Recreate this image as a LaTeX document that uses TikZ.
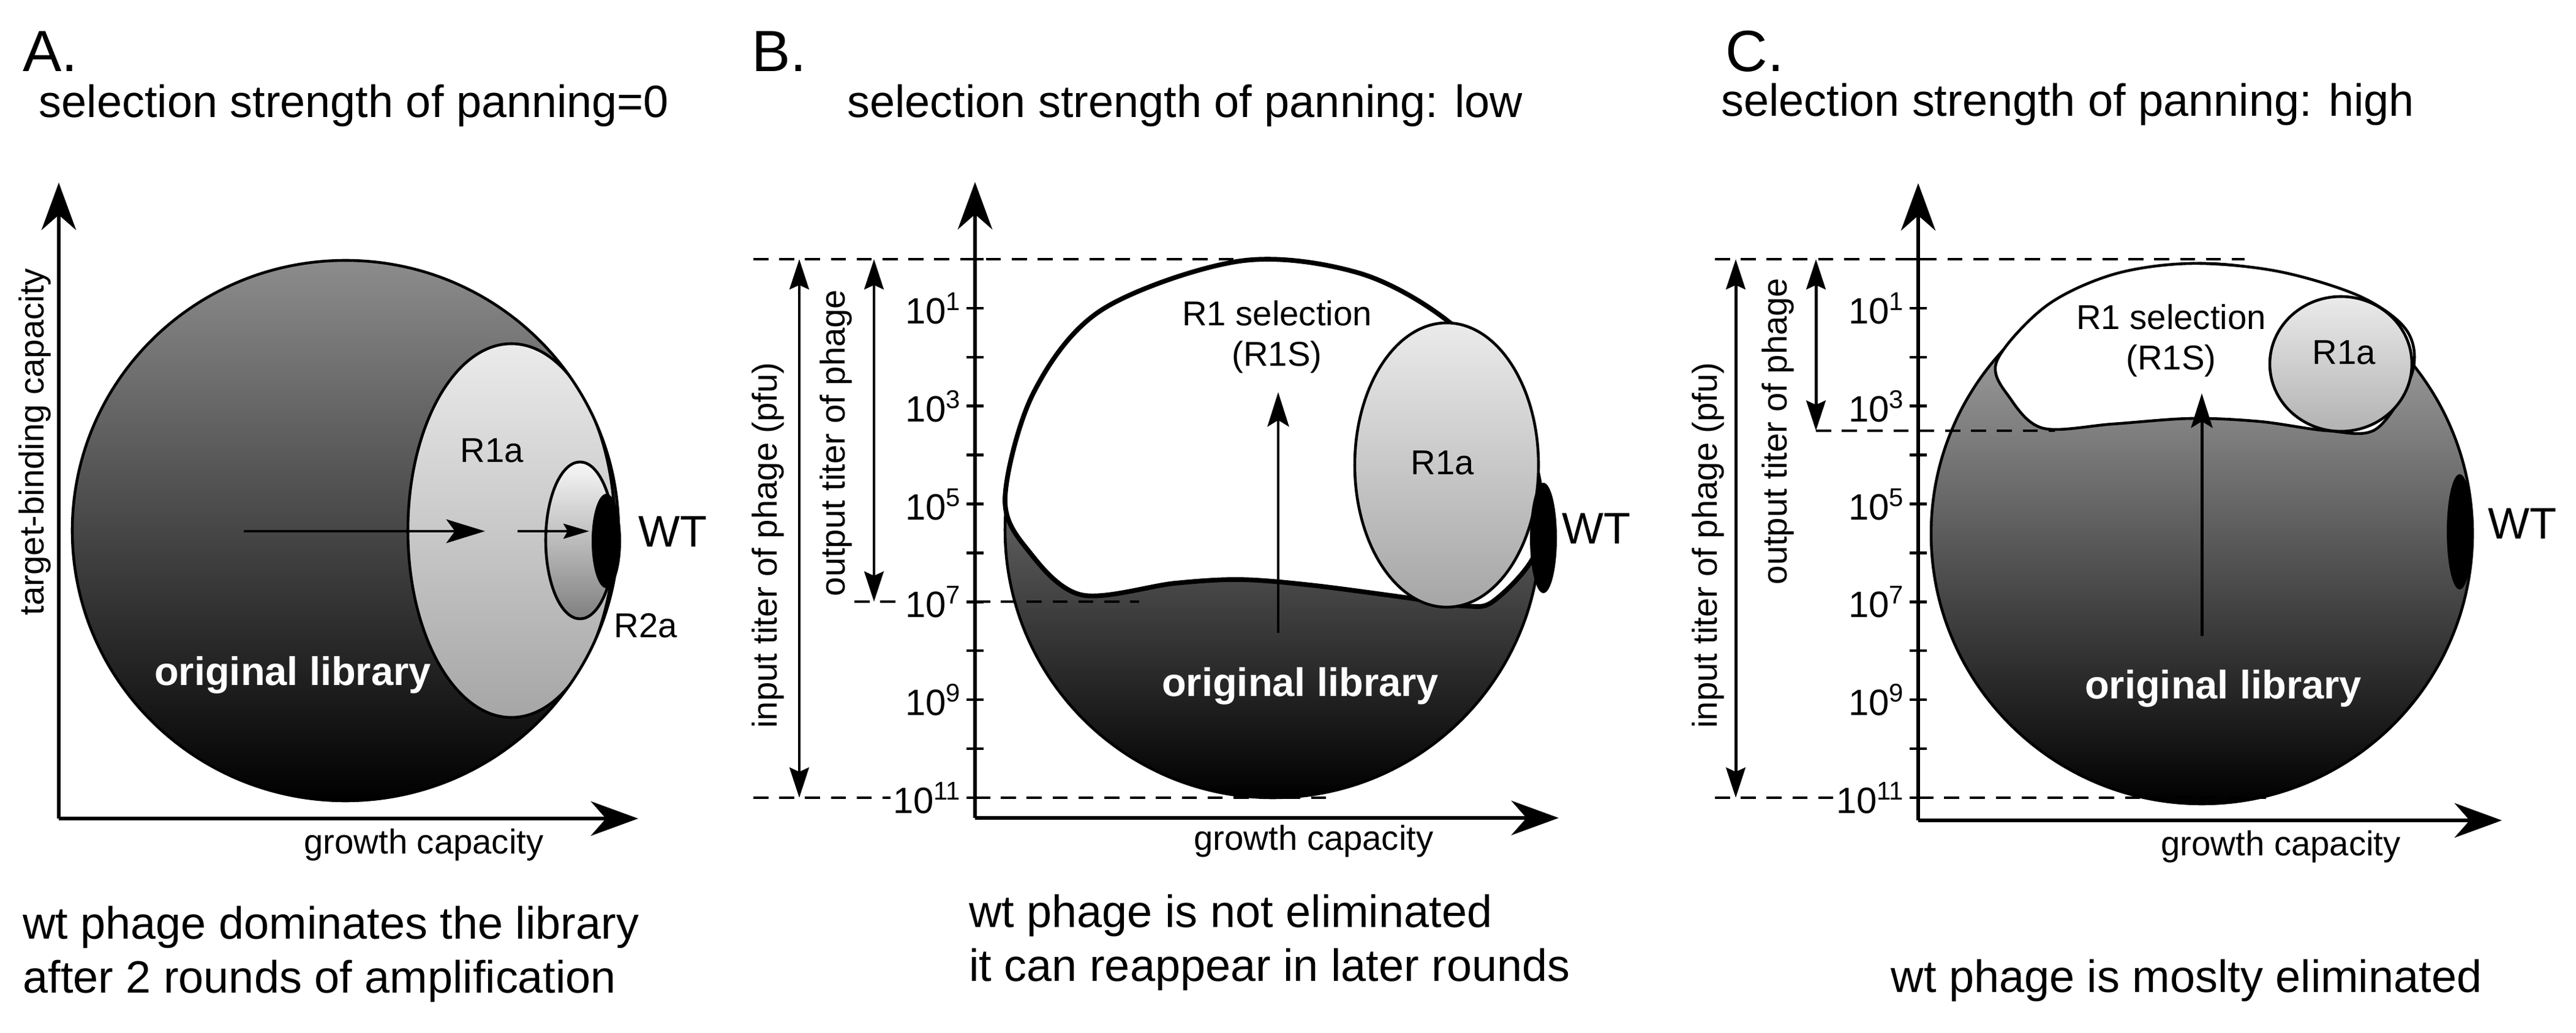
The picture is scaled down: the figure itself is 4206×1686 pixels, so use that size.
\documentclass[tikz,border=0pt]{standalone}
\usepackage{fontspec}
\setmainfont{Liberation Sans}
\usetikzlibrary{arrows.meta}
\begin{document}
\begin{tikzpicture}[x=0.01cm,y=-0.01cm,
  ax/.style={line width=1.8pt,-{Stealth[length=22pt,width=16pt,inset=7pt]}},
  dbl/.style={line width=1.4pt,{Stealth[length=14pt,width=9pt,inset=2pt]}-{Stealth[length=14pt,width=9pt,inset=2pt]}},
  up/.style={line width=1.4pt,-{Stealth[length=16pt,width=10pt,inset=3pt]}},
  dsh/.style={line width=1.1pt,dash pattern=on 7pt off 5pt},
  ttl/.style={font=\fontsize{21pt}{25pt}\selectfont},
  pan/.style={font=\fontsize{27pt}{30pt}\selectfont,anchor=west},
  axl/.style={font=\fontsize{16pt}{19pt}\selectfont},
  lib/.style={font=\fontsize{18.5pt}{21pt}\selectfont\bfseries,text=white},
  reg/.style={font=\fontsize{16pt}{19pt}\selectfont},
  wt/.style={font=\fontsize{20.5pt}{24pt}\selectfont},
  tk/.style={font=\fontsize{17pt}{20pt}\selectfont,anchor=east,inner sep=1pt},
  btm/.style={font=\fontsize{21pt}{25pt}\selectfont,anchor=west,align=left},
  outl/.style={line width=1.3pt},
  thk/.style={line width=2.2pt}]
\useasboundingbox (0,0) rectangle (4206,1686);

%================ A =================
\node[pan] (Alab) at (25,84) {A.};
\node[ttl] (Attl) at (578,172) {selection strength of panning=0};
\shade[top color=black!45,middle color=black!20,bottom color=black] (564,866) ellipse [x radius=446,y radius=441];
\begin{scope}
\clip (564,866) ellipse [x radius=446,y radius=441];
\shade[top color=black!8,middle color=black!12,bottom color=black!35,draw=black,outl] (835,866) ellipse [x radius=169,y radius=305];
\shade[top color=black!3,bottom color=black!50,draw=black,outl] (947,882) ellipse [x radius=56,y radius=128];
\end{scope}
\draw[outl] (564,866) ellipse [x radius=446,y radius=441];
\fill (990,883) ellipse [x radius=24,y radius=77];
\coordinate (Ao) at (96,1336);
\coordinate (Ay) at (96,298);
\coordinate (Ax) at (1042,1336);
\draw[ax] (Ao) -- (Ay);
\draw[ax] (Ao) -- (Ax);
\node[axl,rotate=90] (Aylab) at (57,721) {target-binding capacity};
\node[axl] (Axlab) at (692,1379) {growth capacity};
\node[reg] (AR1a) at (803,735) {R1a};
\node[reg] (AR2a) at (1054,1021) {R2a};
\node[wt,anchor=west] (AWT) at (1030,868) {WT};
\node[lib] (Alib) at (478,1102) {original library};
\coordinate (Aa1) at (398,867); \coordinate (Aa2) at (792,867);
\coordinate (Aa3) at (845,867); \coordinate (Aa4) at (962,867);
\draw[line width=1.4pt,-{Stealth[length=18pt,width=11pt,inset=4pt]}] (Aa1) -- (Aa2);
\draw[line width=0.9pt,-{Stealth[length=12pt,width=7pt,inset=2pt]}] (Aa3) -- (Aa4);
\node[btm] (Abot) at (25,1557) {wt phage dominates the library\\after 2 rounds of amplification};

%================ B =================
\node[pan] (Blab) at (1215,84) {B.};
\node[ttl] (Bttl) at (1935,172) {selection strength of panning: low};
\shade[top color=black!30,middle color=black!62,bottom color=black] (2078,865) ellipse [x radius=437,y radius=437];
\draw[outl] (2078,865) ellipse [x radius=437,y radius=437];
\filldraw[fill=white,draw=black,thk] plot[smooth cycle,tension=0.55] coordinates {(1641,813) (1688,640) (1800,505) (2025,426) (2220,446) (2369,528) (2462,642) (2513,785) (2508,900) (2440,980) (2391,989) (2293,975) (2140,955) (2025,946) (1918,952) (1766,971) (1680,900)};
\shade[top color=black!8,middle color=black!10,bottom color=black!35,draw=black,outl] (2362,759) ellipse [x radius=150,y radius=232];
\fill (2520,878) ellipse [x radius=22,y radius=90];
\node[wt,anchor=west] (BWT) at (2538,863) {WT};
\node[reg,align=center] (BR1S) at (2085,550) {R1 selection\\(R1S)};
\node[reg] (BR1a) at (2355,755) {R1a};
\node[lib] (Blib) at (2123,1120) {original library};
\coordinate (Bs1) at (2087,1033); \coordinate (Bs2) at (2087,640);
\draw[up] (Bs1) -- (Bs2);
% axes
\coordinate (Bo) at (1592,1335);
\coordinate (By) at (1592,297);
\coordinate (Bx) at (2545,1335);
\foreach \n in {0,...,11} \draw[line width=1.3pt] (1578,423+79.9*\n) -- (1606,423+79.9*\n);
\draw[ax] (Bo) -- (By);
\draw[ax] (Bo) -- (Bx);
\node[tk] (B1) at (1574,503) {10\textsuperscript{1}};
\node[tk] (B3) at (1574,663) {10\textsuperscript{3}};
\node[tk] (B5) at (1574,823) {10\textsuperscript{5}};
\node[tk] (B7) at (1574,982) {10\textsuperscript{7}};
\node[tk] (B9) at (1574,1142) {10\textsuperscript{9}};
\node[tk] (B11) at (1574,1302) {10\textsuperscript{11}};
\draw[dsh] (1230,423) -- (2030,423);
\draw[dsh] (1395,982) -- (B7.west);
\draw[dsh] (1592,982) -- (1860,982);
\draw[dsh] (1230,1302) -- (B11.west);
\draw[dsh] (1592,1302) -- (2170,1302);
\coordinate (Bi1) at (1305,423); \coordinate (Bi2) at (1305,1302);
\coordinate (Bo1) at (1427,423); \coordinate (Bo2) at (1427,982);
\draw[dbl] (Bi1) -- (Bi2);
\draw[dbl] (Bo1) -- (Bo2);
\node[axl,rotate=90] (Bin) at (1254,890) {input titer of phage (pfu)};
\node[axl,rotate=90] (Bout) at (1365,723) {output titer of phage};
\node[axl] (Bxlab) at (2145,1373) {growth capacity};
\node[btm] (Bbot) at (1570,1538) {wt phage is not eliminated\\it can reappear in later rounds};

%================ C =================
\node[pan] (Clab) at (2805,84) {C.};
\node[ttl] (Cttl) at (3376,170) {selection strength of panning: high};
\shade[top color=black!28,middle color=black!55,bottom color=black] (3595,871) ellipse [x radius=442,y radius=441];
\draw[outl] (3595,871) ellipse [x radius=442,y radius=441];
\filldraw[fill=white,draw=black,outl] plot[smooth cycle,tension=0.55] coordinates {(3260,590) (3340,500) (3450,448) (3577,430) (3720,443) (3854,484) (3930,540) (3938,610) (3880,700) (3800,703) (3690,688) (3577,683) (3450,692) (3336,699) (3282,650)};
\shade[top color=black!8,bottom color=black!30,draw=black,outl] (3822,594) ellipse [x radius=116,y radius=110];
\fill (4016,868) ellipse [x radius=21,y radius=94];
\node[wt,anchor=west] (CWT) at (4050,855) {WT};
\node[reg,align=center] (CR1S) at (3545,556) {R1 selection\\(R1S)};
\node[reg] (CR1a) at (3827,575) {R1a};
\node[lib] (Clib) at (3630,1124) {original library};
\coordinate (Cs1) at (3595,1038); \coordinate (Cs2) at (3595,642);
\draw[up] (Cs1) -- (Cs2);
\coordinate (Co) at (3132,1339);
\coordinate (Cy) at (3132,299);
\coordinate (Cx) at (4085,1339);
\foreach \n in {0,...,11} \draw[line width=1.3pt] (3118,423+79.9*\n) -- (3146,423+79.9*\n);
\draw[ax] (Co) -- (Cy);
\draw[ax] (Co) -- (Cx);
\node[tk] (C1) at (3114,503) {10\textsuperscript{1}};
\node[tk] (C3) at (3114,663) {10\textsuperscript{3}};
\node[tk] (C5) at (3114,823) {10\textsuperscript{5}};
\node[tk] (C7) at (3114,982) {10\textsuperscript{7}};
\node[tk] (C9) at (3114,1142) {10\textsuperscript{9}};
\node[tk] (C11) at (3114,1302) {10\textsuperscript{11}};
\draw[dsh] (2800,423) -- (3665,423);
\draw[dsh] (2965,703) -- (3355,703);
\draw[dsh] (2800,1302) -- (C11.west);
\draw[dsh] (3132,1302) -- (3700,1302);
\coordinate (Ci1) at (2834,423); \coordinate (Ci2) at (2834,1302);
\coordinate (Co1) at (2965,423); \coordinate (Co2) at (2965,703);
\draw[dbl] (Ci1) -- (Ci2);
\draw[dbl] (Co1) -- (Co2);
\node[axl,rotate=90] (Cin) at (2789,890) {input titer of phage (pfu)};
\node[axl,rotate=90] (Cout) at (2903,704) {output titer of phage};
\node[axl] (Cxlab) at (3724,1382) {growth capacity};
\node[btm,anchor=center] (Cbot) at (3570,1600) {wt phage is moslty eliminated};
\end{tikzpicture}
\end{document}
